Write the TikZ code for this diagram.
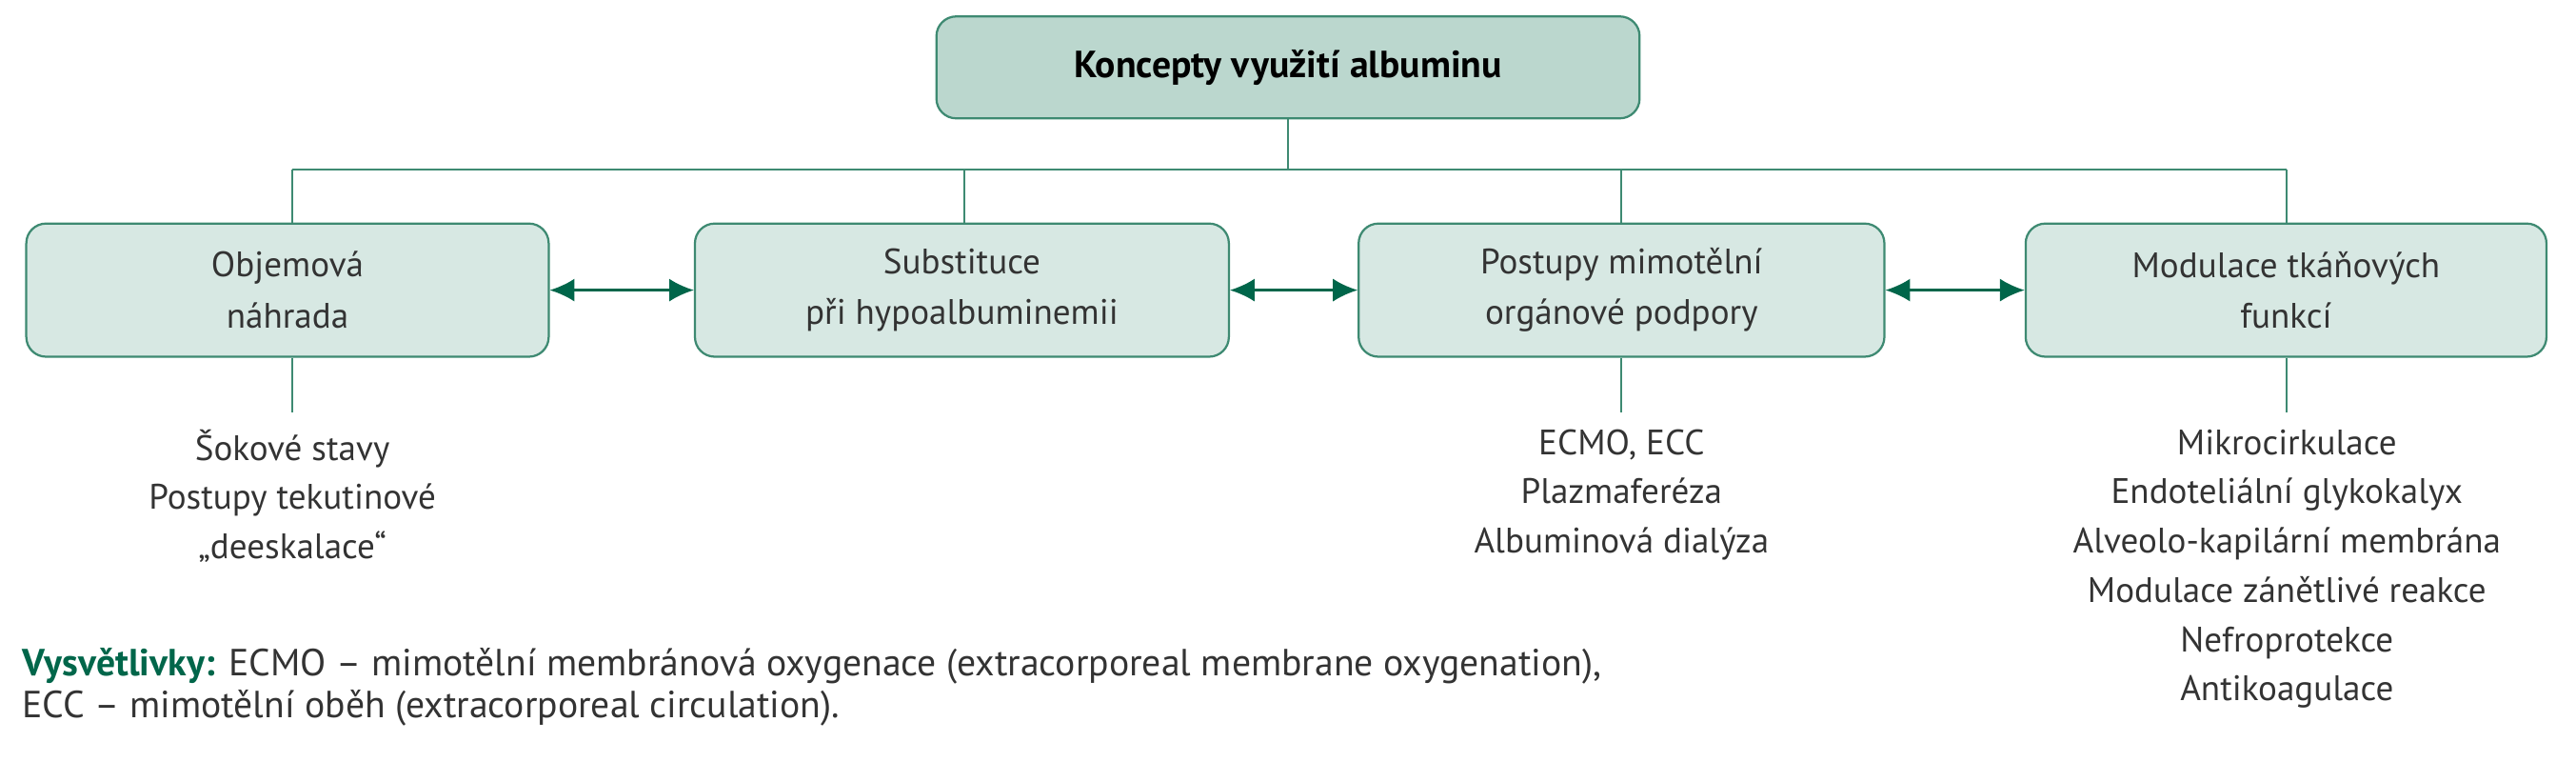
\documentclass[tikz,border=0pt]{standalone}
\usepackage{fontspec}
\setmainfont{PT Sans}
\usetikzlibrary{arrows.meta,positioning}
\definecolor{boxline}{HTML}{3E8A72}
\definecolor{boxfill}{HTML}{D7E8E3}
\definecolor{topfill}{HTML}{BBD7CE}
\definecolor{arrgreen}{HTML}{00664A}
\tikzset{
  concept/.style={draw=boxline,fill=boxfill,line width=1.3pt,rounded corners=12pt,
    minimum width=318pt,minimum height=81pt,align=center,text=black!80,
    font=\fontsize{21.5}{31}\selectfont},
  listing/.style={below,inner sep=2pt,yshift=-8pt,align=center,text=black!80,font=\fontsize{21.5}{30}\selectfont},
  link/.style={boxline,line width=1.1pt},
  both/.style={arrgreen,line width=1.5pt,{Latex[length=15pt,width=14pt]}-{Latex[length=15pt,width=14pt]}}
}
\begin{document}
\begin{tikzpicture}[x=1pt,y=-1pt]
  \useasboundingbox (0,0) rectangle (1568,463);

  \node[concept,fill=topfill,minimum width=428pt,minimum height=62pt,
        font=\fontsize{23}{30}\selectfont\bfseries,text=black] (top) at (784,41) {Koncepty využití albuminu};

  \node[concept] (objem) at (175,176.5) {Objemová\\náhrada};
  \node[concept,minimum width=325pt] (subst) at (585.5,176.5) {Substituce\\při hypoalbuminemii};
  \node[concept,minimum width=320pt] (mimo) at (987,176.5) {Postupy mimotělní\\orgánové podpory};
  \node[concept,minimum width=317pt] (modul) at (1391.5,176.5) {Modulace tkáňových\\funkcí};

  % rozvetveni
  \coordinate (bus) at (784,103);
  \draw[link] (top.south) -- (bus);
  \draw[link] (178,103) -- (1392,103);
  \foreach \n/\x in {objem/178,subst/587,mimo/987,modul/1392}
    \draw[link] (\x,103) -- (\n.north -| \x,0);

  \draw[both] (objem) -- (subst);
  \draw[both] (subst) -- (mimo);
  \draw[both] (mimo) -- (modul);

  % seznamy
  \coordinate (l1) at (178,251);
  \coordinate (l3) at (987,251);
  \coordinate (l4) at (1392,251);
  \draw[link] (objem.south -| l1) -- (l1);
  \draw[link] (mimo.south -| l3) -- (l3);
  \draw[link] (modul.south -| l4) -- (l4);
  \node[listing] (list1) at (l1) {Šokové stavy\\Postupy tekutinové\\„deeskalace“};
  \node[listing] (list3) at (l3) {ECMO, ECC\\Plazmaferéza\\Albuminová dialýza};
  \node[listing] (list4) at (l4) {Mikrocirkulace\\Endoteliální glykokalyx\\Alveolo-kapilární membrána\\Modulace zánětlivé reakce\\Nefroprotekce\\Antikoagulace};

  \node[right,align=left,text=black!80,font=\fontsize{23}{26}\selectfont] (legend) at (10,418)
    {\textcolor{arrgreen}{\bfseries Vysvětlivky:} ECMO – mimotělní membránová oxygenace (extracorporeal membrane oxygenation),\\
     ECC – mimotělní oběh (extracorporeal circulation).};
\end{tikzpicture}
\end{document}
